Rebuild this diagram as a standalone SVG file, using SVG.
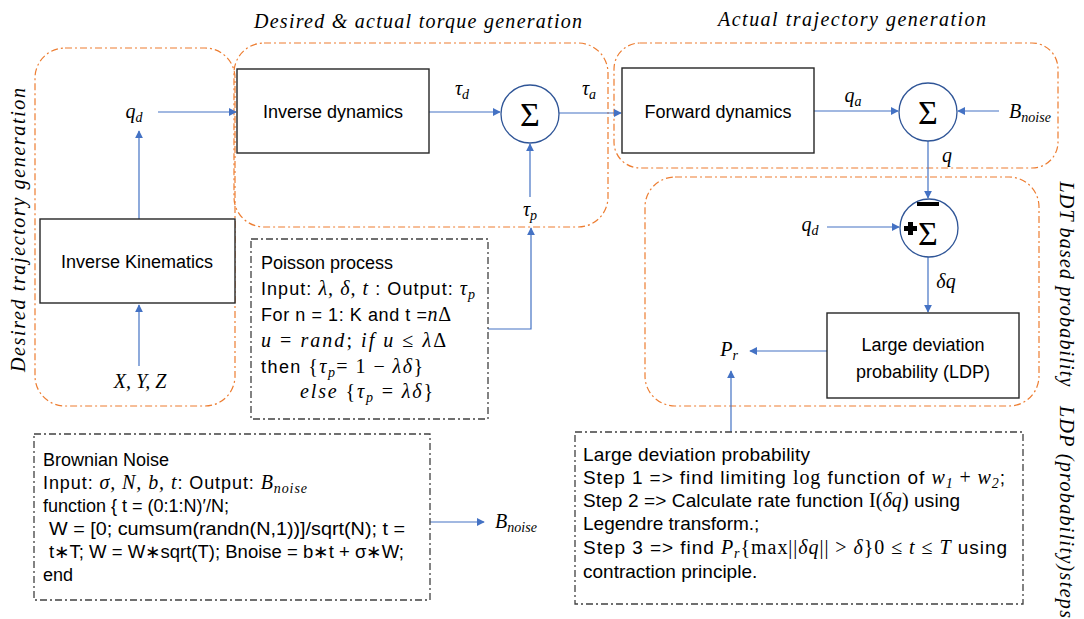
<svg xmlns="http://www.w3.org/2000/svg" width="1084" height="619" viewBox="0 0 1084 619">
<defs>
<marker id="ah" viewBox="0 0 10 10" refX="9" refY="5" markerWidth="8" markerHeight="8" markerUnits="userSpaceOnUse" orient="auto">
<path d="M0,0 L10,5 L0,10 z" fill="#4472C4"/>
</marker>
<style>
.grp{fill:none;stroke:#ED7D31;stroke-width:1.2;stroke-dasharray:7 3 2 3}
.box{fill:#fff;stroke:#262626;stroke-width:1.4}
.dd{fill:#fff;stroke:#404040;stroke-width:1.3;stroke-dasharray:7 3 2 3}
.sum{fill:#fff;stroke:#2F5597;stroke-width:1.3}
.con{fill:none;stroke:#4472C4;stroke-width:1.2;marker-end:url(#ah)}
.lbl{font-family:"Liberation Sans",Arial,sans-serif;font-size:18px;fill:#000;text-anchor:middle}
.txt{font-family:"Liberation Sans",Arial,sans-serif;font-size:18px;fill:#000}
.t19{font-size:19px}
.m{font-family:"Liberation Serif","Times New Roman",serif;font-style:italic;font-size:20px}
.mr{font-family:"Liberation Serif","Times New Roman",serif;font-style:normal;font-size:20px}
.sb{font-family:"Liberation Serif","Times New Roman",serif;font-style:italic;font-size:14px}
.ml{font-family:"Liberation Serif","Times New Roman",serif;font-style:italic;font-size:20px;fill:#000;text-anchor:middle}
.ttl{font-family:"Liberation Serif","Times New Roman",serif;font-style:italic;font-size:20px;fill:#000;text-anchor:middle}
.sig{font-family:"Liberation Serif","Times New Roman",serif;font-size:34px;fill:#000;text-anchor:middle}
</style>
</defs>

<g id="titles">
<text class="ttl" x="418" y="28" textLength="328" lengthAdjust="spacing">Desired &amp; actual torque generation</text>
<text class="ttl" x="852" y="26" textLength="268" lengthAdjust="spacing">Actual trajectory generation</text>
<text class="ttl" transform="translate(25,230) rotate(-90)" textLength="284" lengthAdjust="spacing">Desired trajectory generation</text>
<text class="ttl" transform="translate(1060,284) rotate(90)" textLength="205" lengthAdjust="spacing">LDT based probability</text>
<text class="ttl" transform="translate(1060,512) rotate(90)" textLength="212" lengthAdjust="spacing">LDP (probability)steps</text>
</g>

<g id="groups">
<rect id="grp-desired" class="grp" x="35" y="48" width="200" height="358" rx="30"/>
<rect id="grp-torque" class="grp" x="234" y="43" width="374" height="184" rx="30"/>
<rect id="grp-actual" class="grp" x="614" y="43" width="444" height="125" rx="26"/>
<rect id="grp-ldt" class="grp" x="645" y="177" width="394" height="229" rx="30"/>
</g>

<g id="connectors">
<line class="con" x1="139" y1="219" x2="139" y2="131"/>
<line class="con" x1="139" y1="366" x2="139" y2="305"/>
<line class="con" x1="158" y1="112" x2="236" y2="112"/>
<line class="con" x1="429" y1="112" x2="500" y2="112"/>
<line class="con" x1="559" y1="113" x2="621" y2="113"/>
<line class="con" x1="530" y1="197" x2="530" y2="144"/>
<polyline class="con" points="488,329 531,329 531,228"/>
<line class="con" x1="814" y1="111" x2="898" y2="111"/>
<line class="con" x1="999" y1="111" x2="958" y2="111"/>
<line class="con" x1="928" y1="141" x2="928" y2="198"/>
<line class="con" x1="827" y1="227" x2="899" y2="227"/>
<line class="con" x1="928" y1="257" x2="928" y2="312"/>
<line class="con" x1="827" y1="351" x2="750" y2="351"/>
<line class="con" x1="731" y1="432" x2="731" y2="371"/>
<line class="con" x1="430" y1="522" x2="484" y2="522"/>
</g>

<g id="node-inverse-kinematics">
<rect class="box" x="40" y="219" width="195" height="84"/>
<text class="lbl" x="137" y="268">Inverse Kinematics</text>
</g>
<g id="label-qd-left"><text class="ml" x="134" y="118">q<tspan font-size="14" dy="4">d</tspan></text></g>
<g id="label-xyz"><text class="ml" x="140" y="388">X, Y, Z</text></g>

<g id="node-inverse-dynamics">
<rect class="box" x="237" y="69" width="192" height="84"/>
<text class="lbl" x="333" y="118">Inverse dynamics</text>
</g>
<g id="node-sum1">
<circle class="sum" cx="530" cy="114" r="29"/>
<text class="sig" x="530" y="126">Σ</text>
</g>
<g id="label-taud"><text class="ml" x="462" y="95">τ<tspan font-size="14" dy="4">d</tspan></text></g>
<g id="label-taua"><text class="ml" x="589" y="95">τ<tspan font-size="14" dy="4">a</tspan></text></g>
<g id="label-taup"><text class="ml" x="530" y="216">τ<tspan font-size="14" dy="4">p</tspan></text></g>

<g id="node-poisson">
<rect class="dd" x="251" y="239" width="237" height="180"/>
<text class="txt" x="261" y="269">Poisson process</text>
<text class="txt" x="261" y="295" textLength="214" lengthAdjust="spacing">Input: <tspan class="m">λ, δ, t</tspan> : Output: <tspan class="m">τ</tspan><tspan class="sb" dy="4">p</tspan></text>
<text class="txt" x="261" y="321" textLength="190" lengthAdjust="spacing">For n = 1: K and t =<tspan class="m">n</tspan><tspan class="mr">Δ</tspan></text>
<text class="txt" x="261" y="347" textLength="185" lengthAdjust="spacing"><tspan class="m">u</tspan><tspan class="mr"> = </tspan><tspan class="m">rand</tspan><tspan class="mr">; </tspan><tspan class="m">if u</tspan><tspan class="mr"> ≤ </tspan><tspan class="m">λ</tspan><tspan class="mr">Δ</tspan></text>
<text class="txt" x="261" y="373" textLength="162" lengthAdjust="spacing">then <tspan class="mr">{</tspan><tspan class="m">τ</tspan><tspan class="sb" dy="4">p</tspan><tspan class="mr" dy="-4">= 1 − </tspan><tspan class="m">λδ</tspan><tspan class="mr">}</tspan></text>
<text class="txt" x="300" y="398" textLength="133" lengthAdjust="spacing"><tspan class="m">else </tspan><tspan class="mr">{</tspan><tspan class="m">τ</tspan><tspan class="sb" dy="4">p</tspan><tspan class="mr" dy="-4"> = </tspan><tspan class="m">λδ</tspan><tspan class="mr">}</tspan></text>
</g>

<g id="node-brownian">
<rect class="dd" x="34" y="434" width="396" height="166"/>
<text class="txt" x="43" y="466">Brownian Noise</text>
<text class="txt" x="43" y="489" textLength="264" lengthAdjust="spacing">Input: <tspan class="m">σ, N, b, t</tspan>: Output: <tspan class="m">B</tspan><tspan class="sb" dy="4">noise</tspan></text>
<text class="txt" x="43" y="512">function { t = (0:1:N)′/N;</text>
<text class="txt" x="49" y="535" textLength="356" lengthAdjust="spacingAndGlyphs">W = [0; cumsum(randn(N,1))]/sqrt(N); t =</text>
<text class="txt" x="49" y="558" textLength="355" lengthAdjust="spacingAndGlyphs">t∗T; W = W∗sqrt(T); Bnoise = b∗t + σ∗W;</text>
<text class="txt" x="43" y="581">end</text>
</g>
<g id="label-bnoise-out"><text class="ml" x="516" y="528">B<tspan font-size="14" dy="4">noise</tspan></text></g>

<g id="node-forward-dynamics">
<rect class="box" x="622" y="68" width="192" height="85"/>
<text class="lbl" x="718" y="118">Forward dynamics</text>
</g>
<g id="node-sum2">
<circle class="sum" cx="928" cy="112" r="29"/>
<text class="sig" x="928" y="124">Σ</text>
</g>
<g id="label-qa"><text class="ml" x="853" y="102">q<tspan font-size="14" dy="4">a</tspan></text></g>
<g id="label-bnoise-in"><text class="ml" x="1030" y="118">B<tspan font-size="14" dy="4">noise</tspan></text></g>
<g id="label-q"><text class="ml" x="947" y="162">q</text></g>

<g id="node-sum3">
<circle class="sum" cx="929" cy="228" r="29"/>
<text class="sig" x="928" y="245" font-size="32">Σ</text>
<rect x="917" y="202" width="22" height="4" fill="#000"/>
<rect x="904" y="226" width="13" height="5" fill="#000"/>
<rect x="908" y="222" width="5" height="13" fill="#000"/>
</g>
<g id="label-qd-right"><text class="ml" x="810" y="231">q<tspan font-size="14" dy="4">d</tspan></text></g>
<g id="label-dq"><text class="ml" x="946" y="288">δq</text></g>
<g id="node-ldp">
<rect class="box" x="827" y="313" width="192" height="85"/>
<text class="lbl" x="923" y="351">Large deviation</text>
<text class="lbl" x="923" y="378">probability (LDP)</text>
</g>
<g id="label-pr"><text class="ml" x="729" y="356">P<tspan font-size="14" dy="4">r</tspan></text></g>

<g id="node-ldp-steps">
<rect class="dd" x="575" y="432" width="448" height="172"/>
<text class="txt t19" x="583" y="461" textLength="227" lengthAdjust="spacing">Large deviation probability</text>
<text class="txt t19" x="583" y="484" textLength="422" lengthAdjust="spacing">Step 1 =&gt; find limiting <tspan class="mr">log</tspan> function of <tspan class="m">w</tspan><tspan class="sb" font-style="normal" dy="4">1</tspan><tspan class="mr" dy="-4"> + </tspan><tspan class="m">w</tspan><tspan class="sb" font-style="normal" dy="4">2</tspan><tspan dy="-4">;</tspan></text>
<text class="txt t19" x="583" y="507" textLength="377" lengthAdjust="spacing">Step 2 =&gt; Calculate rate function <tspan class="mr">I(</tspan><tspan class="m">δq</tspan><tspan class="mr">)</tspan> using</text>
<text class="txt t19" x="583" y="530">Legendre transform.;</text>
<text class="txt t19" x="583" y="554" textLength="424" lengthAdjust="spacing">Step 3 =&gt; find <tspan class="m">P</tspan><tspan class="sb" dy="4">r</tspan><tspan class="mr" dy="-4">{max||</tspan><tspan class="m">δq</tspan><tspan class="mr">|| &gt; </tspan><tspan class="m">δ</tspan><tspan class="mr">}0 ≤ </tspan><tspan class="m">t</tspan><tspan class="mr"> ≤ </tspan><tspan class="m">T</tspan> using</text>
<text class="txt t19" x="583" y="578">contraction principle.</text>
</g>
</svg>
